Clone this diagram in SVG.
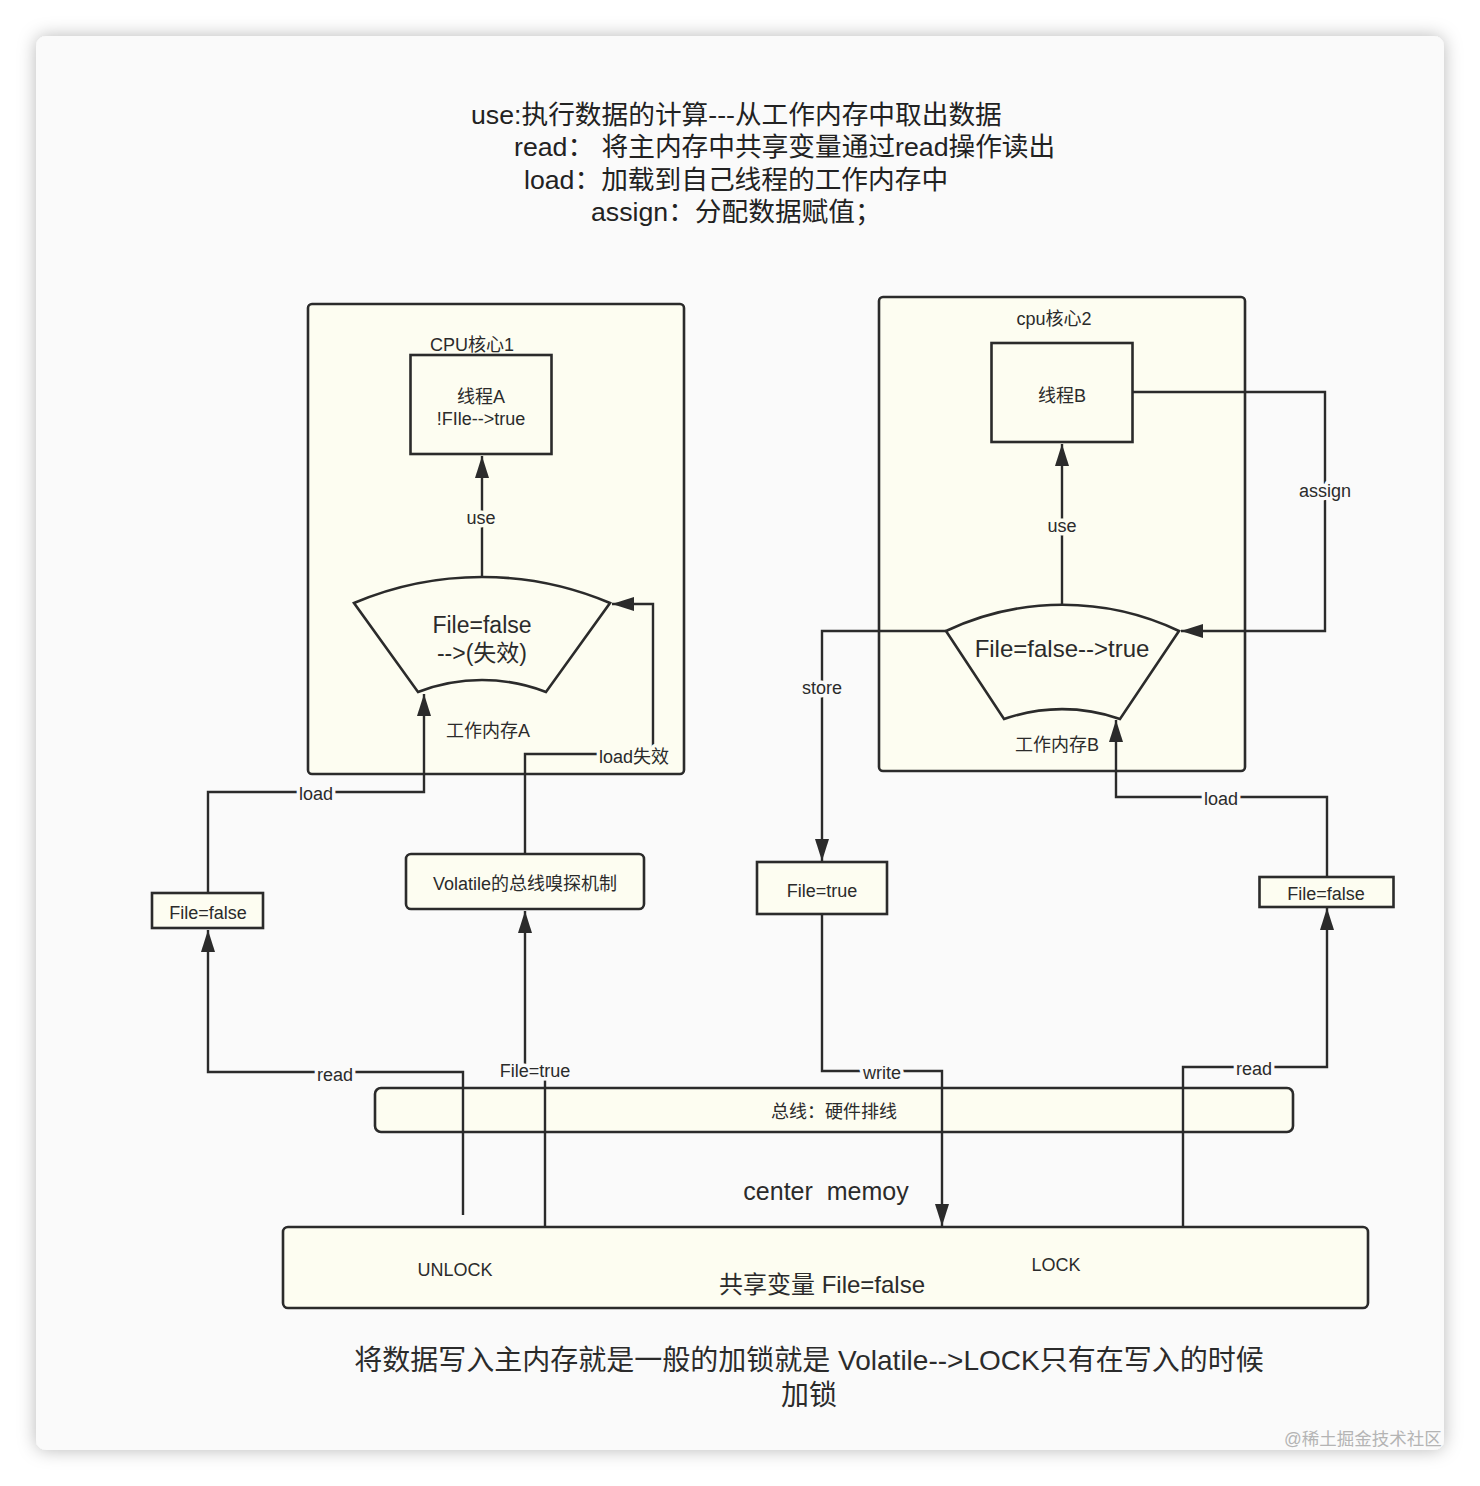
<svg xmlns="http://www.w3.org/2000/svg" width="1480" height="1486" viewBox="0 0 1480 1486">
<defs>
<filter id="sh" x="-5%" y="-5%" width="110%" height="110%">
<feDropShadow dx="0" dy="0" stdDeviation="9" flood-color="#000" flood-opacity="0.28"/>
</filter>
<marker id="ar" markerUnits="userSpaceOnUse" markerWidth="22" markerHeight="14" refX="22" refY="7" orient="auto">
<path d="M0,0 L22,7 L0,14 Z" fill="#2b2b2b"/>
</marker>
</defs>
<style>
text{font-family:"Liberation Sans","Noto Sans CJK SC",sans-serif;fill:#2b2b2b;text-anchor:middle;white-space:pre}
.box{fill:#fdfdf1;stroke:#2b2b2b;stroke-width:2.6}
.c{fill:none;stroke:#2b2b2b;stroke-width:2.4}
.s{font-size:18px}
.lo{paint-order:stroke;stroke:#fafafa;stroke-width:7px;stroke-linejoin:round}
.li{paint-order:stroke;stroke:#fdfdf1;stroke-width:7px;stroke-linejoin:round}
.top{font-size:26.7px;text-anchor:start;fill:#222}
</style>
<rect width="1480" height="1486" fill="#ffffff"/>
<rect x="36" y="36" width="1408" height="1414" rx="10" fill="#fafafa" filter="url(#sh)"/>

<g id="notes">
<text class="top" x="471" y="124">use:执行数据的计算---从工作内存中取出数据</text>
<text class="top" x="514" y="156">read： 将主内存中共享变量通过read操作读出</text>
<text class="top" x="524" y="189">load：加载到自己线程的工作内存中</text>
<text class="top" x="591" y="221">assign：分配数据赋值；</text>
</g>

<g id="cpu1">
<rect class="box" x="308" y="304" width="376" height="470" rx="4"/>
<text class="s" x="472" y="351">CPU核心1</text>
</g>
<g id="threadA">
<rect class="box" x="410.5" y="355" width="141" height="99"/>
<text class="s" x="481" y="403">线程A</text>
<text class="s" x="481" y="425">!FIle--&gt;true</text>
</g>
<g id="memA">
<path class="box" d="M354,603 A328,328 0 0 1 610,603 L546,692 A177,177 0 0 0 418,692 Z"/>
<text x="482" y="633" style="font-size:23px">File=false</text>
<text x="482" y="661" style="font-size:23px">--&gt;(失效)</text>
<text class="s" x="488" y="737">工作内存A</text>
</g>

<g id="cpu2">
<rect class="box" x="879" y="297" width="366" height="474" rx="4"/>
<text class="s" x="1054" y="325">cpu核心2</text>
</g>
<g id="threadB">
<rect class="box" x="991.5" y="343" width="141" height="99"/>
<text class="s" x="1062" y="402">线程B</text>
</g>
<g id="memB">
<path class="box" d="M946,631 A272,272 0 0 1 1179,631 L1120,719 A176,176 0 0 0 1004,719 Z"/>
<text x="1062" y="657" style="font-size:24px">File=false--&gt;true</text>
<text class="s" x="1057" y="751">工作内存B</text>
</g>

<g id="fileFalseL">
<rect class="box" x="152" y="893" width="111" height="35"/>
<text class="s" x="208" y="919">File=false</text>
</g>
<g id="volatile">
<rect class="box" x="406" y="854" width="238" height="55" rx="5"/>
<text class="s" x="525" y="890">Volatile的总线嗅探机制</text>
</g>
<g id="fileTrue">
<rect class="box" x="757" y="862" width="130" height="52"/>
<text class="s" x="822" y="897">File=true</text>
</g>
<g id="fileFalseR">
<rect class="box" x="1259.5" y="877" width="134" height="30"/>
<text class="s" x="1326" y="900">File=false</text>
</g>
<g id="bus">
<rect class="box" x="375" y="1088" width="918" height="44" rx="6"/>
<text class="s" x="834" y="1118">总线：硬件排线</text>
</g>
<g id="mainMemory">
<text x="826" y="1200" style="font-size:25px">center  memoy</text>
<rect class="box" x="283" y="1227" width="1085" height="81" rx="5"/>
<text class="s" x="455" y="1276">UNLOCK</text>
<text class="s" x="1056" y="1271">LOCK</text>
<text x="822" y="1293" style="font-size:24px">共享变量 File=false</text>
</g>

<g id="connectors">
<path class="c" d="M482,577 V456" marker-end="url(#ar)"/>
<path class="c" d="M1062,604 V444" marker-end="url(#ar)"/>
<path class="c" d="M525,854 V754 H653 V604 H612" marker-end="url(#ar)"/>
<path class="c" d="M208,893 V792 H424 V694" marker-end="url(#ar)"/>
<path class="c" d="M463,1215 V1072 H208 V930" marker-end="url(#ar)"/>
<path class="c" d="M545,1227 V1071 H525 V911" marker-end="url(#ar)"/>
<path class="c" d="M946,631 H822 V861" marker-end="url(#ar)"/>
<path class="c" d="M822,914 V1071 H942 V1226" marker-end="url(#ar)"/>
<path class="c" d="M1183,1227 V1067 H1327 V908" marker-end="url(#ar)"/>
<path class="c" d="M1327,877 V797 H1116 V720" marker-end="url(#ar)"/>
<path class="c" d="M1133,392 H1325 V631 H1181" marker-end="url(#ar)"/>
<text class="s li" x="481" y="524">use</text>
<text class="s li" x="1062" y="532">use</text>
<text class="s li" x="634" y="763">load失效</text>
<text class="s lo" x="316" y="800">load</text>
<text class="s lo" x="335" y="1081">read</text>
<text class="s lo" x="535" y="1077">File=true</text>
<text class="s lo" x="822" y="694">store</text>
<text class="s lo" x="882" y="1079">write</text>
<text class="s lo" x="1254" y="1075">read</text>
<text class="s lo" x="1221" y="805">load</text>
<text class="s lo" x="1325" y="497">assign</text>
</g>

<g id="footer">
<text x="809" y="1370" style="font-size:28px">将数据写入主内存就是一般的加锁就是 Volatile--&gt;LOCK只有在写入的时候</text>
<text x="809" y="1405" style="font-size:28px">加锁</text>
<text x="1363" y="1445" style="font-size:17.5px;fill:#b4b4b4">@稀土掘金技术社区</text>
</g>
</svg>
